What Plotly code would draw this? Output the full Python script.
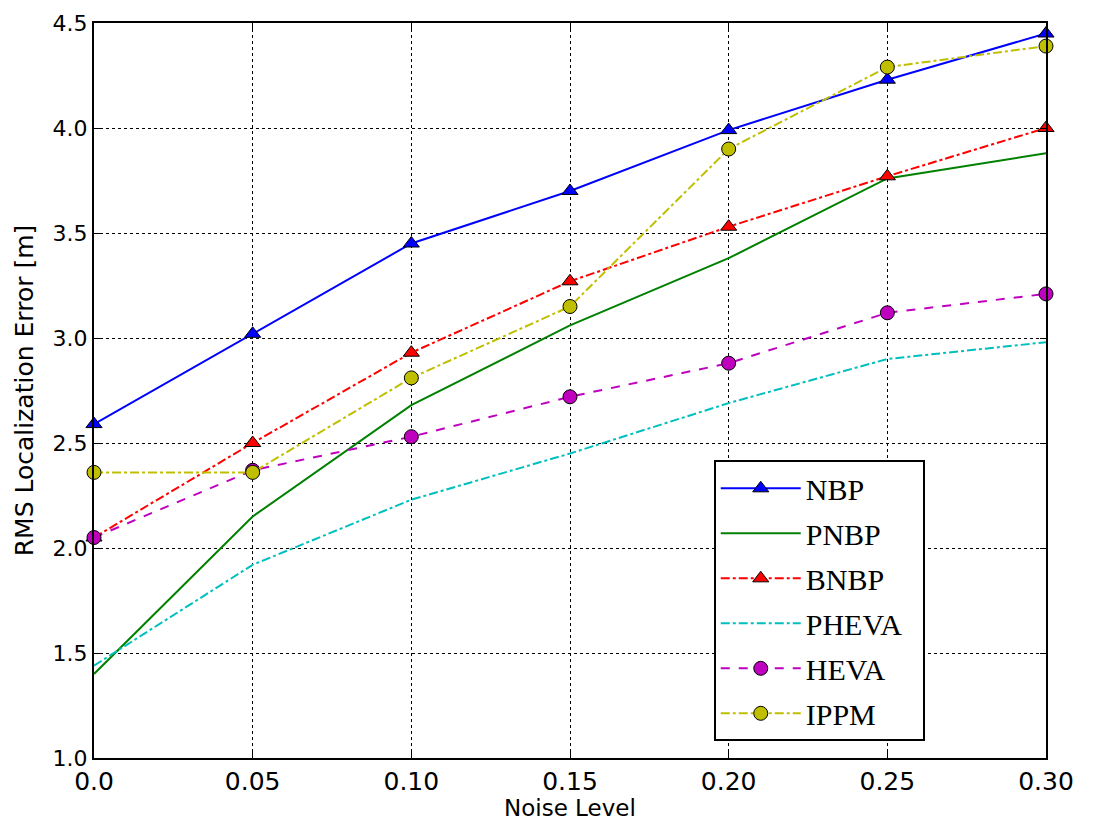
import plotly.graph_objects as go

noise = [0.0, 0.05, 0.10, 0.15, 0.20, 0.25, 0.30]
nbp = [2.59, 3.02, 3.45, 3.70, 3.99, 4.23, 4.45]
pnbp = [1.40, 2.15, 2.68, 3.06, 3.38, 3.76, 3.88]
bnbp = [2.05, 2.50, 2.93, 3.27, 3.53, 3.77, 4.00]
pheva = [1.44, 1.92, 2.23, 2.45, 2.69, 2.90, 2.98]
heva = [2.05, 2.37, 2.53, 2.72, 2.88, 3.12, 3.21]
ippm = [2.36, 2.36, 2.81, 3.15, 3.90, 4.29, 4.39]

x_ticks = [0.0, 0.05, 0.10, 0.15, 0.20, 0.25, 0.30]
x_ticktext = ["0.0", "0.05", "0.10", "0.15", "0.20", "0.25", "0.30"]
y_ticks = [1.0, 1.5, 2.0, 2.5, 3.0, 3.5, 4.0, 4.5]
y_ticktext = ["1.0", "1.5", "2.0", "2.5", "3.0", "3.5", "4.0", "4.5"]

series = [
    ("NBP", nbp, "#0000ff", "solid", "lines+markers", "triangle-up"),
    ("PNBP", pnbp, "#008000", "solid", "lines", None),
    ("BNBP", bnbp, "#ff0000", "dashdot", "lines+markers", "triangle-up"),
    ("PHEVA", pheva, "#00bfbf", "dashdot", "lines", None),
    ("HEVA", heva, "#bf00bf", "dash", "lines+markers", "circle"),
    ("IPPM", ippm, "#bfbf00", "dashdot", "lines+markers", "circle"),
]

pad = "\u00a0\u00a0"
fig = go.Figure()
for i, (name, vals, col, dash, mode, sym) in enumerate(series):
    kw = dict(x=noise, y=vals, name=name + pad, mode=mode, legendgroup=name,
              line=dict(color=col, width=2, dash=dash), cliponaxis=False)
    if sym:
        kw["marker"] = dict(symbol=sym, size=14, color=col,
                            line=dict(color="black", width=1))
    fig.add_trace(go.Scatter(**kw))

fig.update_layout(
    width=1085, height=814,
    margin=dict(l=86, r=47, t=15, b=64, autoexpand=False),
    paper_bgcolor="white", plot_bgcolor="white",
    font=dict(family="DejaVu Sans", color="black"),
    legend=dict(
        x=0.651, y=0.405, xanchor="left", yanchor="top",
        bgcolor="white", bordercolor="black", borderwidth=2,
        font=dict(family="Liberation Serif", size=30, color="black"),
        tracegroupgap=3, itemwidth=80,
    ),
    showlegend=True,
    annotations=[dict(
        text="Noise Level", xref="paper", yref="paper", x=0.5, y=-0.068,
        xanchor="center", yanchor="middle", showarrow=False,
        font=dict(family="DejaVu Sans", size=23, color="black"),
    )],
)
fig.update_xaxes(
    range=[0, 0.30], tickvals=x_ticks, ticktext=x_ticktext, automargin=False,
    tickfont=dict(size=25),
    showgrid=True, gridcolor="black", griddash="dot", gridwidth=1,
    showline=True, linecolor="black", linewidth=2, mirror="ticks",
    ticks="inside", ticklen=6, tickcolor="black", zeroline=False,
)
fig.update_yaxes(
    range=[1.0, 4.5], tickvals=y_ticks, ticktext=y_ticktext, automargin=False,
    tickfont=dict(size=22), title=dict(text="RMS Localization Error [m]", font=dict(size=25), standoff=12),
    showgrid=True, gridcolor="black", griddash="dot", gridwidth=1,
    showline=True, linecolor="black", linewidth=2, mirror="ticks",
    ticks="inside", ticklen=6, tickcolor="black", zeroline=False,
)
fig.write_html("out.html")
